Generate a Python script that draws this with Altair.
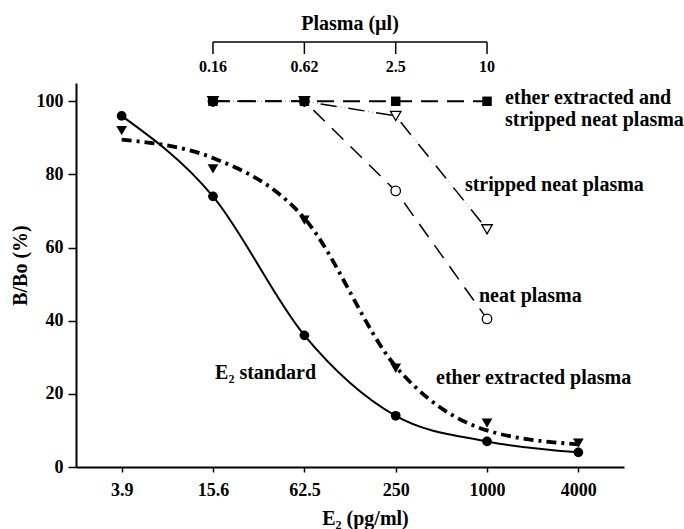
import altair as alt
import pandas as pd

# ---- data ----
e2_levels = [3.9, 15.6, 62.5, 250, 1000, 4000]          # E2 (pg/ml), bottom axis
e2_standard = [96, 74, 36, 14, 7, 4]                     # filled circles
ether_plasma = [92, 81.5, 67.5, 27, 12, 6.5]             # filled down-triangles
ether_plasma_fit = [89.5, 84.5, 68, 27.5, 10, 6.2]       # dash-dot fitted curve

plasma_labels = ["0.16", "0.62", "2.5", "10"]            # Plasma (ul), top axis
plasma_pos = [15.6, 62.5, 250, 1000]                     # matching positions on the E2 scale
neat_plasma = [100, 100, 75.5, 40.5]                     # open circles
stripped_neat = [100, 100, 96, 65]                       # open down-triangles
ether_stripped = [100, 100, 100, 100]                    # filled squares

ann_text = ["ether extracted and", "stripped neat plasma", "stripped neat plasma",
            "neat plasma", "ether extracted plasma", "E\u2082 standard"]
ann_x = [1313, 1313, 715, 885, 461, 16.1]
ann_y = [101, 95, 77, 46.7, 24.3, 25.7]

y_ticks = [0, 20, 40, 60, 80, 100]
x_title = "E\u2082 (pg/ml)"
y_title = "B/Bo (%)"
top_title = "Plasma (\u00b5l)"

FONT = "Liberation Serif"

xscale = alt.Scale(type="log", domain=[1.95, 8000], nice=False)
yscale = alt.Scale(domain=[0, 105], nice=False)


def xax():
    return alt.Axis(values=e2_levels, format=".4~g", title=x_title, grid=False,
                    domainColor="black", domainWidth=2, tickColor="black", tickWidth=1.5,
                    tickSize=5, labelPadding=9, labelFontSize=18, labelFont=FONT,
                    labelFontWeight="bold", labelColor="black", titleFont=FONT,
                    titleFontSize=20, titleFontWeight="bold", titleColor="black",
                    titleX=289, titleY=51, titleBaseline="middle", labelFlush=False)


def yax():
    return alt.Axis(values=y_ticks, title=y_title, grid=False, domainColor="black",
                    domainWidth=2, tickColor="black", tickWidth=1.5, tickSize=8,
                    labelPadding=5, labelFontSize=18, labelFont=FONT,
                    labelFontWeight="bold", labelColor="black", titleFont=FONT,
                    titleFontSize=20, titleFontWeight="bold", titleColor="black",
                    titleX=-56, titleY=182, titleBaseline="middle", titleAngle=270)


def enc(ch):
    return ch.encode(x=alt.X("x:Q", scale=xscale, axis=xax()),
                     y=alt.Y("y:Q", scale=yscale, axis=yax()))


e2_df = pd.DataFrame({"x": e2_levels, "y": e2_standard})
eth_df = pd.DataFrame({"x": e2_levels, "y": ether_plasma})
fit_df = pd.DataFrame({"x": e2_levels, "y": ether_plasma_fit})
neat_df = pd.DataFrame({"x": plasma_pos, "y": neat_plasma})
strip_df = pd.DataFrame({"x": plasma_pos, "y": stripped_neat})
es_df = pd.DataFrame({"x": plasma_pos, "y": ether_stripped})
ann_df = pd.DataFrame({"x": ann_x, "y": ann_y, "label": ann_text})
top_df = pd.DataFrame({"x": plasma_pos, "label": plasma_labels})

layers = [
    enc(alt.Chart(e2_df).mark_line(interpolate="monotone", color="black", strokeWidth=2)),
    enc(alt.Chart(fit_df).mark_line(interpolate="monotone", color="black", strokeWidth=3.8,
                                    strokeDash=[10, 5, 3, 5])),
    enc(alt.Chart(neat_df).mark_line(color="black", strokeWidth=1.5, strokeDash=[16, 10])),
    enc(alt.Chart(strip_df).mark_line(color="#888888", strokeWidth=1, strokeDash=[1, 3])),
    enc(alt.Chart(strip_df).mark_line(color="black", strokeWidth=1.5, strokeDash=[16, 12],
                                      strokeDashOffset=4)),
    enc(alt.Chart(es_df).mark_line(color="black", strokeWidth=2, strokeDash=[17, 9])),
    enc(alt.Chart(e2_df).mark_point(shape="circle", filled=True, color="black", size=95, opacity=1)),
    enc(alt.Chart(eth_df).mark_point(shape="triangle-down", filled=True, color="black", size=115, opacity=1)),
    enc(alt.Chart(strip_df).mark_point(shape="triangle-down", fill="white", stroke="black",
                                       strokeWidth=1.3, size=110, opacity=1)),
    enc(alt.Chart(neat_df).mark_point(shape="circle", fill="white", stroke="black",
                                      strokeWidth=1.3, size=90, opacity=1)),
    enc(alt.Chart(es_df).mark_point(shape="square", filled=True, color="black", size=90, opacity=1)),
    enc(alt.Chart(ann_df).mark_text(align="left", baseline="middle", font=FONT, fontSize=20,
                                    fontWeight="bold", color="black")).encode(text="label:N"),
    # top plasma axis (bracket)
    alt.Chart(top_df).transform_aggregate(lo="min(x)", hi="max(x)").mark_rule(
        color="black", strokeWidth=1.5).encode(
        x=alt.X("lo:Q", scale=xscale, axis=xax()), x2="hi:Q", y=alt.value(-41)),
    alt.Chart(top_df).mark_rule(color="black", strokeWidth=1.5).encode(
        x=alt.X("x:Q", scale=xscale, axis=xax()), y=alt.value(-41), y2=alt.value(-29)),
    alt.Chart(top_df).mark_text(font=FONT, fontSize=16, fontWeight="bold", color="black",
                                baseline="middle").encode(
        x=alt.X("x:Q", scale=xscale, axis=xax()), y=alt.value(-16), text="label:N"),
    alt.Chart(top_df).transform_aggregate(lo="min(x)", hi="max(x)").transform_calculate(
        mid="sqrt(datum.lo*datum.hi)").mark_text(
        font=FONT, fontSize=20, fontWeight="bold", color="black", baseline="middle",
        text=top_title).encode(
        x=alt.X("mid:Q", scale=xscale, axis=xax()), y=alt.value(-59)),
]

chart = alt.layer(*layers).properties(
    width=548, height=384,
    autosize=alt.AutoSizeParams(type="none"),
    padding={"left": 76, "top": 83, "right": 60, "bottom": 62},
    background="white",
).configure_view(stroke=None)

chart.save("out.html", embed_options={"renderer": "svg", "actions": False})
